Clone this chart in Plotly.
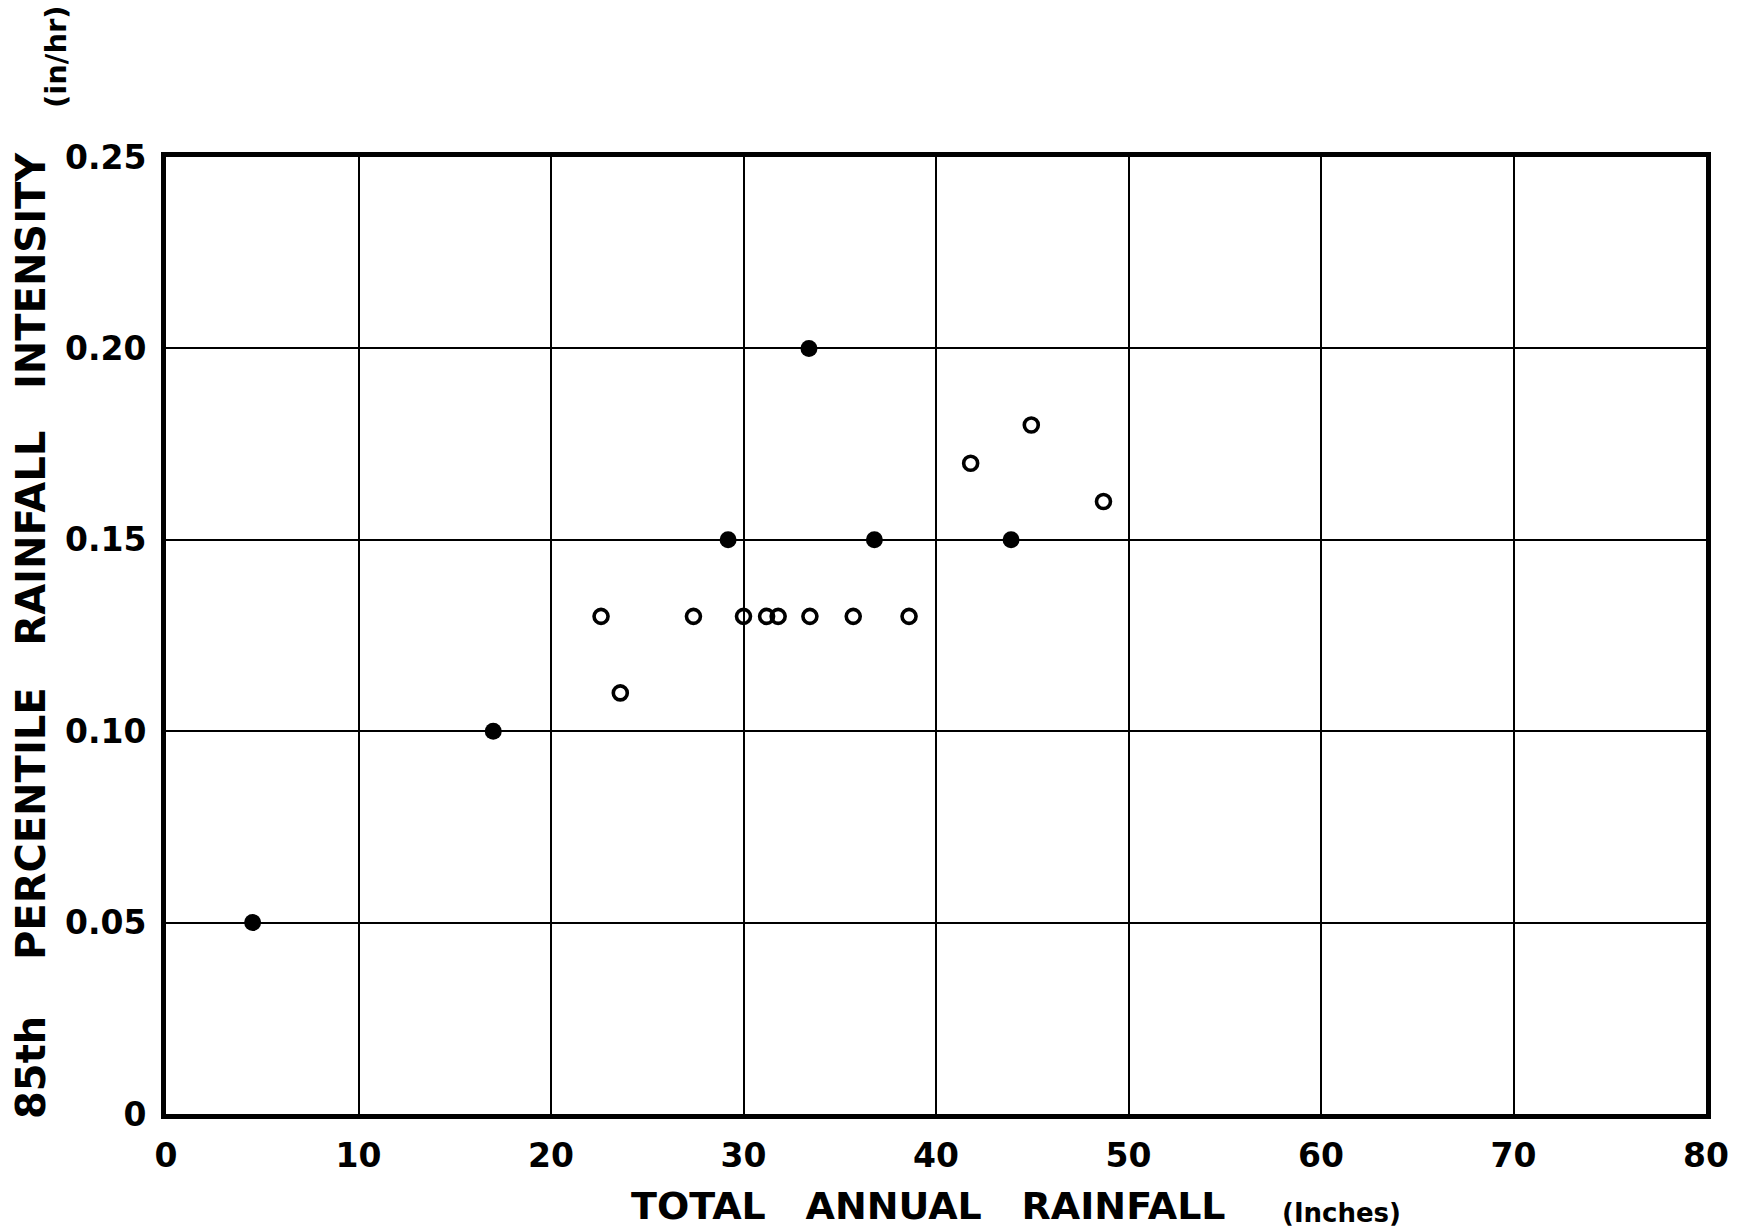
import plotly.graph_objects as go

# Station data: total annual rainfall (in) vs 85th percentile rainfall intensity (in/hr)
solid_rain = [4.5, 17.0, 29.2, 33.4, 36.8, 43.9]
solid_intensity = [0.05, 0.10, 0.15, 0.20, 0.15, 0.15]

open_rain = [22.6, 23.6, 27.4, 30.0, 31.2, 31.8, 33.45, 35.7, 38.6, 41.8, 44.95, 48.7]
open_intensity = [0.13, 0.11, 0.13, 0.13, 0.13, 0.13, 0.13, 0.13, 0.13, 0.17, 0.18, 0.16]

x_ticks = [0, 10, 20, 30, 40, 50, 60, 70, 80]
y_ticks = [0, 0.05, 0.10, 0.15, 0.20, 0.25]
y_tick_text = ["0", "0.05", "0.10", "0.15", "0.20", "0.25"]

FONT = "DejaVu Sans"
NB = "\u00a0"
gap = NB * 2 + " "

fig = go.Figure()

fig.add_trace(go.Scatter(
    x=open_rain, y=open_intensity, mode="markers",
    marker=dict(symbol="circle-open", size=14, color="black",
                line=dict(width=3.6, color="black")),
    showlegend=False, hoverinfo="x+y",
))
fig.add_trace(go.Scatter(
    x=solid_rain, y=solid_intensity, mode="markers",
    marker=dict(symbol="circle", size=17, color="black"),
    showlegend=False, hoverinfo="x+y",
))

tick_font = dict(family=FONT, size=33, color="black", weight="bold")

fig.update_xaxes(
    range=[0, 80], tickvals=x_ticks, ticktext=[str(v) for v in x_ticks],
    showgrid=True, gridcolor="black", gridwidth=2,
    showline=True, linecolor="black", linewidth=5, mirror=True,
    zeroline=False, ticks="", ticklabelstandoff=8,
    tickfont=tick_font,
)
fig.update_yaxes(
    range=[0, 0.25], tickvals=y_ticks, ticktext=y_tick_text,
    showgrid=True, gridcolor="black", gridwidth=2,
    showline=True, linecolor="black", linewidth=5, mirror=True,
    zeroline=False, ticks="", ticklabelstandoff=8,
    tickfont=tick_font,
)

annotations = [
    dict(text="TOTAL" + gap + "ANNUAL" + gap + "RAINFALL",
         x=0.495, y=0, xref="paper", yref="paper", yshift=-68,
         showarrow=False, xanchor="center", yanchor="top",
         font=dict(family=FONT, size=38, color="black", weight="bold")),
    dict(text="(Inches)",
         x=0.763, y=-0.103, xref="paper", yref="paper",
         showarrow=False, xanchor="center", yanchor="middle",
         font=dict(family=FONT, size=26, color="black", weight="bold")),
    dict(text="85th" + NB * 3 + " PERCENTILE" + gap + "RAINFALL" + gap + "INTENSITY",
         x=-0.0877, y=0.5005, xref="paper", yref="paper", textangle=-90,
         showarrow=False, xanchor="center", yanchor="middle",
         font=dict(family=FONT, size=40, color="black", weight="bold")),
    dict(text="(in/hr)",
         x=-0.0714, y=1.1045, xref="paper", yref="paper", textangle=-90,
         showarrow=False, xanchor="center", yanchor="middle",
         font=dict(family=FONT, size=29, color="black", weight="bold")),
]

fig.update_layout(
    width=1746, height=1229,
    margin=dict(l=166, r=40, t=157, b=115),
    paper_bgcolor="white", plot_bgcolor="white",
    annotations=annotations,
    showlegend=False,
)

fig.write_html("out.html")
